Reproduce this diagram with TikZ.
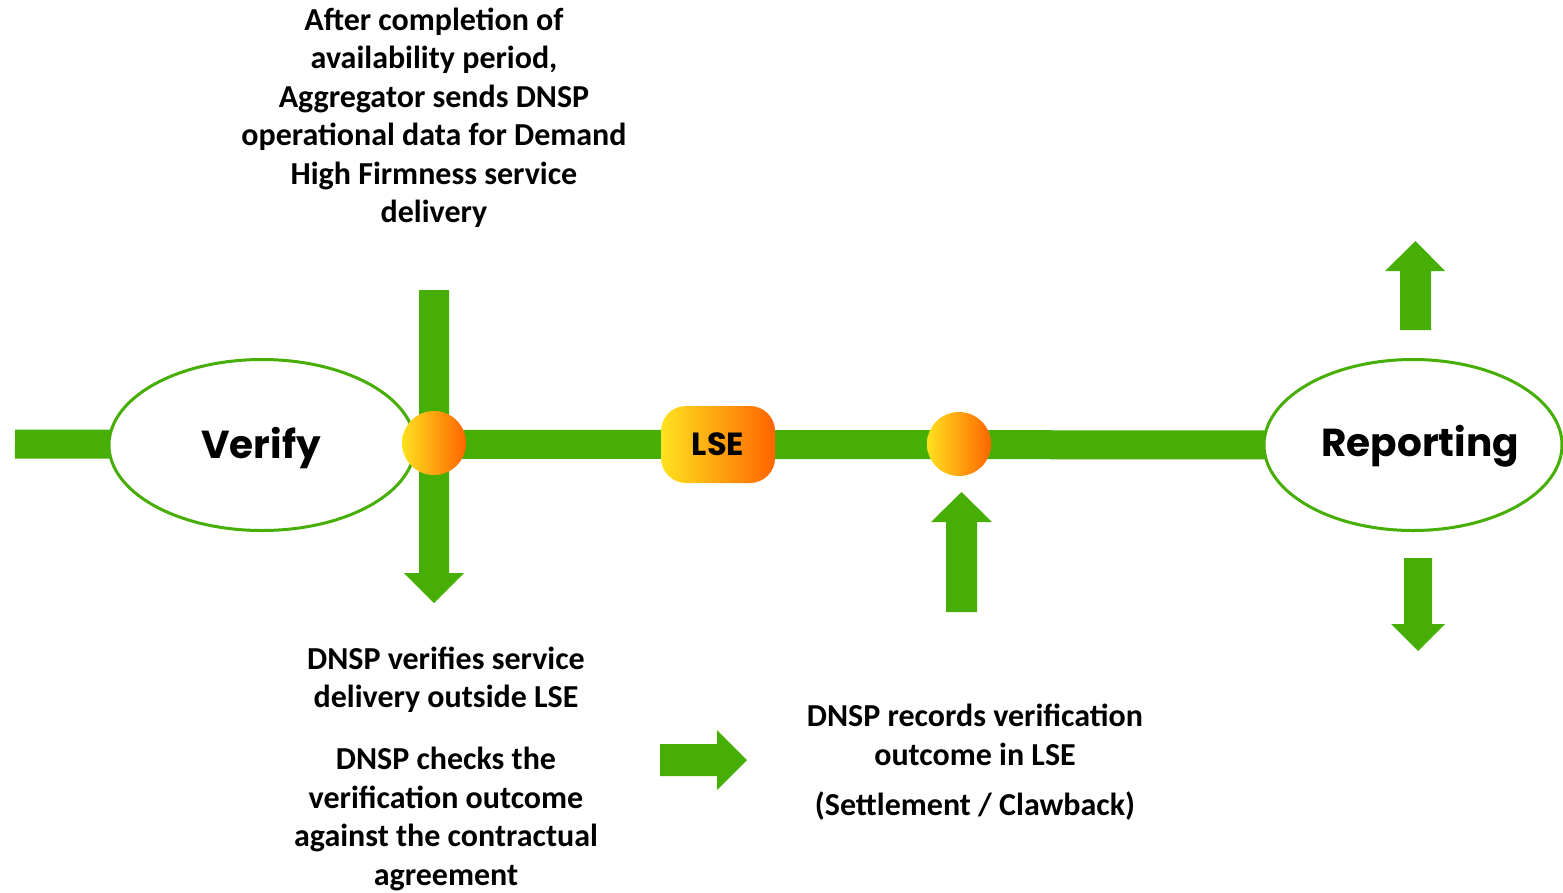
\documentclass[tikz,border=0pt]{standalone}
\usepackage{fontspec}
\setmainfont{Carlito}
\newfontfamily\gothic{Poppins}
\usetikzlibrary{shapes.geometric,backgrounds}
\definecolor{barg}{HTML}{46AE04}
\definecolor{gyel}{HTML}{FFE21F}
\definecolor{gora}{HTML}{FF6400}
\tikzset{
  bar/.style={draw=barg, line width=29pt},
  blockarrow/.style={fill=barg, draw=none},
  phase/.style={ellipse, draw=barg, line width=3pt, fill=white, inner sep=0pt,
    minimum width=306pt, minimum height=171pt},
  phasetext/.style={font=\gothic\bfseries\fontsize{39}{46}\selectfont, inner sep=0pt},
  dot/.style={circle, minimum size=64pt, inner sep=0pt, draw=none, left color=gyel, right color=gora},
  lsebox/.style={rounded corners=25pt, minimum width=114pt, minimum height=77pt, inner sep=0pt,
    draw=none, left color=gyel, right color=gora, font=\gothic\bfseries\fontsize{32}{38}\selectfont},
  note/.style={align=center, font=\bfseries\fontsize{32}{38.5}\selectfont, inner sep=0pt}
}
\begin{document}
\begin{tikzpicture}[x=1pt,y=-1pt]
\useasboundingbox (0,0) rectangle (1563,892);
\coordinate (barL) at (15,444);
\coordinate (vtop) at (434,290);
\coordinate (vtip) at (434,603);
\node[phase] (verify) at (262,445) {};
\node[phasetext] (verifyt) at (261,448) {Verify};
\node[phase, minimum width=298pt] (rep) at (1413,445) {};
\node[phasetext] (rept) at (1420,446) {Reporting};
\node[dot] (c1) at (434,443) {};
\node[lsebox] (lse) at (718,444.5) {LSE};
\node[dot] (c2) at (959,444) {};
\begin{scope}[on background layer]
  \draw[bar] (barL) -- (rep.center);
  \fill[blockarrow] (vtop) ++(-15,0) -- ++(30,0) -- ++(0,283) -- ++(15,0) -- (vtip) -- ++(-30,-30) -- ++(15,0) -- cycle;
\end{scope}
% free block arrows
\fill[blockarrow] (946,612) -- (977,612) -- (977,522) -- (992,522) -- (961.5,492) -- (931,522) -- (946,522) -- cycle;
\fill[blockarrow] (1400,330) -- (1431,330) -- (1431,271) -- (1445,271) -- (1415.5,241) -- (1385,271) -- (1400,271) -- cycle;
\fill[blockarrow] (1404,558) -- (1432,558) -- (1432,624) -- (1445,624) -- (1418,651) -- (1391,624) -- (1404,624) -- cycle;
\fill[blockarrow] (660,744) -- (717,744) -- (717,730) -- (747,760) -- (717,790) -- (717,776) -- (660,776) -- cycle;
% texts
\node[note] (t1) at (434,118) {After completion of\\availability period,\\Aggregator sends DNSP\\operational data for Demand\\High Firmness service\\delivery};
\node[note] (t2) at (446,680) {DNSP verifies service\\delivery outside LSE};
\node[note] (t3) at (446,819) {DNSP checks the\\verification outcome\\against the contractual\\agreement};
\node[note] (t4) at (975,735) {DNSP records verification\\outcome in LSE};
\node[note] (t5) at (975,806) {(Settlement / Clawback)};
\end{tikzpicture}
\end{document}
